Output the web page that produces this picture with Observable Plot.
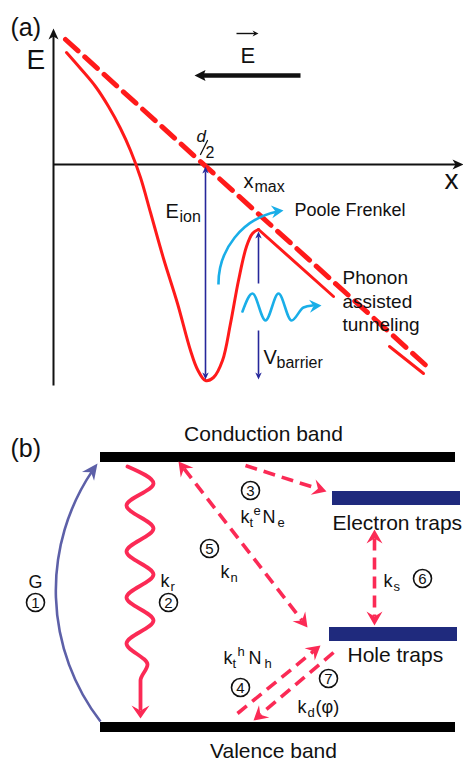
<!DOCTYPE html>
<html><head><meta charset="utf-8">
<script src="https://cdn.jsdelivr.net/npm/d3@7"></script>
<script src="https://cdn.jsdelivr.net/npm/@observablehq/plot@0.6"></script>
<style>
html,body{margin:0;padding:0;background:#fff;}
#chart svg{display:block;}
</style></head><body><div id="chart"></div>
<script>
// ===== Panel (a): potential well of a trap under an electric field =====
const potentialCurve = [[66,52],[80,68],[95,86],[108,106],[120,128],[130,150],[140,177],[150,212],[163,258],[177,303],[190,350],[197,369],[205,380],[213,377],[222,360],[230,323],[238,280],[246,246],[252,233],[258,229]];
const potentialSlope = [{x:258,y:229,seg:1},{x:333,y:296,seg:1},{x:389,y:346,seg:2},{x:423,y:373,seg:2}];
const unperturbedLine = [[65,39],[430,369]];
const axesArrows = [{x1:53,y1:385,x2:53,y2:28},{x1:53,y1:164,x2:463,y2:164}];
const fieldArrow = [{x1:300,y1:75,x2:194,y2:75}];
const vectorMark = [{x1:236,y1:33,x2:258,y2:33}];
const eionArrow = [{x1:205,y1:166,x2:205,y2:379,both:true}];
const barrierArrows = [{x1:258,y1:283,x2:258,y2:231},{x1:258,y1:330,x2:258,y2:379}];
const pooleArc = {x1:218,y1:284,x2:283,y2:210,bend:42};
const phononWave = [[242,311],[252,293],[265,320],[278,293],[291,320],[303,307],[312,305]];
const phononHead = [{x:321,y:305,angle:-4}];
const halfSlashLine = [[200,154],[207,140]];

// ===== Panel (b): kinetic scheme =====
const bands = [
  {name:"Conduction band", x1:100,x2:455,y1:452,y2:462, kind:"band"},
  {name:"Valence band", x1:100,x2:455,y1:722,y2:732, kind:"band"},
  {name:"Electron traps", x1:332,x2:460,y1:491,y2:505, kind:"trap"},
  {name:"Hole traps", x1:329,x2:457,y1:627,y2:641, kind:"trap"}];
const generationArc = {x1:100,y1:721,x2:97,y2:463,bend:37};
const radiativeWave = [[127,466],[153,483],[126,505],[153,528],[126,551],[153,574],[126,597],[153,620],[126,643],[147,664],[140,680],[140,708]];
const radiativeHead = [{x:140,y:718,angle:90}];
const singleArrows = [ // ③ trapping e-, ④ trapping h+, ⑦ detrapping
  {x1:245,y1:465,x2:326,y2:491},{x1:237,y1:713,x2:320,y2:645},{x1:333,y1:652,x2:253,y2:720}];
const doubleArrows = [ // ⑤ nonradiative, ⑥ trap-trap
  {x1:178,y1:461,x2:307,y2:627,both:true},{x1:374,y1:529,x2:374,y2:625,both:true}];
const circled = [{n:"1",x:35,y:602},{n:"2",x:168,y:602},{n:"3",x:250,y:490},{n:"4",x:240,y:687},{n:"5",x:209,y:548},{n:"6",x:422,y:578},{n:"7",x:328,y:678}];

// ===== labels =====
const panelTags = [{t:"(a)",x:10,y:35},{t:"(b)",x:10,y:456}];
const axisLetters = [{t:"E",x:26,y:68},{t:"x",x:444,y:188}];
const fieldLetter = [{t:"E",x:240,y:62}];
const halfD = [{t:"d",x:196,y:141}];
const halfTwo = [{t:"2",x:205,y:157}];
const aMain = [{t:"x",x:243,y:187},{t:"E",x:165,y:217},{t:"V",x:263,y:363}];
const aSubs = [{t:"max",x:254,y:191},{t:"ion",x:179,y:221},{t:"barrier",x:276,y:367}];
const processNames = [{t:"Poole Frenkel",x:294,y:215,s:18},{t:"Phonon",x:342,y:283,s:19},{t:"assisted",x:342,y:307,s:19},{t:"tunneling",x:342,y:330,s:19}];
const bandNamesCentered = [{t:"Conduction band",x:263,y:440},{t:"Valence band",x:273,y:757}];
const trapNames = [{t:"Electron traps",x:332,y:529},{t:"Hole traps",x:347,y:661}];
const rateMain = [{t:"G",x:28,y:587},{t:"k",x:160,y:586},{t:"k",x:220,y:577},{t:"k",x:240,y:522},{t:"N",x:262,y:522},{t:"k",x:383,y:586},{t:"k",x:223,y:663},{t:"N",x:248,y:663},{t:"k",x:297,y:712},{t:"(φ)",x:315,y:712}];
const rateSubs = [{t:"r",x:170,y:590},{t:"n",x:230,y:581},{t:"t",x:249,y:526},{t:"e",x:277,y:526},{t:"s",x:393,y:590},{t:"t",x:232,y:667},{t:"h",x:264,y:667},{t:"d",x:307,y:716}];
const rateSups = [{t:"e",x:253,y:514},{t:"h",x:237,y:655}];

// ===== helpers =====
const FONT = "'Liberation Sans', Arial, sans-serif";
const RED_A = "#ff1a1a", RED_B = "#fb2a55", CYAN = "#19aee8", NAVY = "#25279a", TRAP = "#1f2a7d", GCOL = "#5d60a8";
function headSymbol(len, half, notch) {
  return {draw(ctx, size) {
    const k = Math.sqrt(size / Math.PI) / 4.5;
    ctx.moveTo(0, 0);
    ctx.lineTo(-len * k, -half * k);
    ctx.lineTo(-notch * k, 0);
    ctx.lineTo(-len * k, half * k);
    ctx.closePath();
  }};
}
const deg = r => r * 180 / Math.PI;
function headsOf(arrows, bend = 0) {
  const out = [];
  for (const a of arrows) {
    const chord = deg(Math.atan2(a.y2 - a.y1, a.x2 - a.x1));
    out.push({x:a.x2, y:a.y2, angle: chord + bend});
    if (a.both) out.push({x:a.x1, y:a.y1, angle: chord + 180 - bend});
  }
  return out;
}
function shafts(data, o) {
  return Plot.arrow(data, {x1:"x1", y1:"y1", x2:"x2", y2:"y2", headLength:0, strokeLinecap:"butt", ...o});
}
function heads(data, sym, fill) {
  return Plot.dot(data, {x:"x", y:"y", rotate:"angle", r:4.5, symbol:sym, fill, stroke:"none"});
}
function txt(data, size, o = {}) {
  return Plot.text(data, {x:"x", y:"y", text:"t", fontSize:size, textAnchor:"start", lineAnchor:"bottom", fill:"#111", fontFamily:FONT, ...o});
}

const chart = Plot.plot({
  width: 463, height: 760, margin: 0,
  x: {domain:[0,463], axis:null},
  y: {domain:[0,760], reverse:true, axis:null},
  style: {fontFamily: FONT, background:"#fff"},
  marks: [
    // ---- panel (a)
    shafts(axesArrows, {stroke:"#111", strokeWidth:2, insetEnd:7}),
    heads(headsOf(axesArrows), headSymbol(11,5,8), "#111"),
    Plot.line(unperturbedLine, {stroke:RED_A, strokeWidth:5, strokeDasharray:"17,9"}),
    Plot.line(potentialCurve, {stroke:RED_A, strokeWidth:3, curve:"catmull-rom"}),
    Plot.line(potentialSlope, {x:"x", y:"y", z:"seg", stroke:RED_A, strokeWidth:3}),
    shafts(fieldArrow, {stroke:"#111", strokeWidth:4.5, insetEnd:8}),
    heads(headsOf(fieldArrow), headSymbol(11,5.5,9), "#111"),
    shafts(vectorMark, {stroke:"#111", strokeWidth:1.4, insetEnd:3}),
    heads(headsOf(vectorMark), headSymbol(6,3,4), "#111"),
    shafts(eionArrow, {stroke:NAVY, strokeWidth:1.6, insetEnd:5, insetStart:5}),
    heads(headsOf(eionArrow), headSymbol(7,3.2,5), NAVY),
    shafts(barrierArrows, {stroke:NAVY, strokeWidth:1.6, insetEnd:5}),
    heads(headsOf(barrierArrows), headSymbol(7,3.2,5), NAVY),
    shafts([pooleArc], {stroke:CYAN, strokeWidth:2.6, bend:pooleArc.bend, insetEnd:7}),
    heads(headsOf([pooleArc], pooleArc.bend), headSymbol(12,6.5,8), CYAN),
    Plot.line(phononWave, {stroke:CYAN, strokeWidth:2.6, curve:"monotone-x"}),
    heads(phononHead, headSymbol(12,6.5,8), CYAN),
    Plot.line(halfSlashLine, {stroke:"#111", strokeWidth:1.2}),
    // ---- panel (b)
    Plot.rect(bands, {x1:"x1", x2:"x2", y1:"y1", y2:"y2", fill: d => d.kind === "band" ? "#000" : TRAP}),
    shafts([generationArc], {stroke:GCOL, strokeWidth:2.6, bend:generationArc.bend, insetEnd:9}),
    heads(headsOf([generationArc], generationArc.bend), headSymbol(16,7.5,11), GCOL),
    Plot.line(radiativeWave, {stroke:RED_B, strokeWidth:3.8, curve:"monotone-y"}),
    heads(radiativeHead, headSymbol(13,9,8), RED_B),
    shafts(singleArrows, {stroke:RED_B, strokeWidth:3.6, strokeDasharray:"12,7", insetEnd:9}),
    heads(headsOf(singleArrows), headSymbol(14,8,9), RED_B),
    shafts(doubleArrows, {stroke:RED_B, strokeWidth:3.6, strokeDasharray:"12,7", insetEnd:9, insetStart:9}),
    heads(headsOf(doubleArrows), headSymbol(14,8,9), RED_B),
    Plot.dot(circled, {x:"x", y:"y", r:9, stroke:"#111", strokeWidth:1.6, fill:"#fff"}),
    Plot.text(circled, {x:"x", y:"y", text:"n", fontSize:15, fill:"#111", fontFamily:FONT, dy:1}),
    // ---- labels
    txt(panelTags, 25),
    txt(axisLetters, 28),
    txt(fieldLetter, 22),
    txt(halfD, 17, {fontStyle:"italic"}),
    txt(halfTwo, 16),
    txt(aMain, 20),
    txt(aSubs, 16),
    txt(processNames, d => d.s),
    txt(bandNamesCentered, 21, {textAnchor:"middle"}),
    txt(trapNames, 21),
    txt(rateMain, 18),
    txt(rateSubs, 13),
    txt(rateSups, 13)
  ]
});
document.getElementById("chart").appendChild(chart);
</script></body></html>
